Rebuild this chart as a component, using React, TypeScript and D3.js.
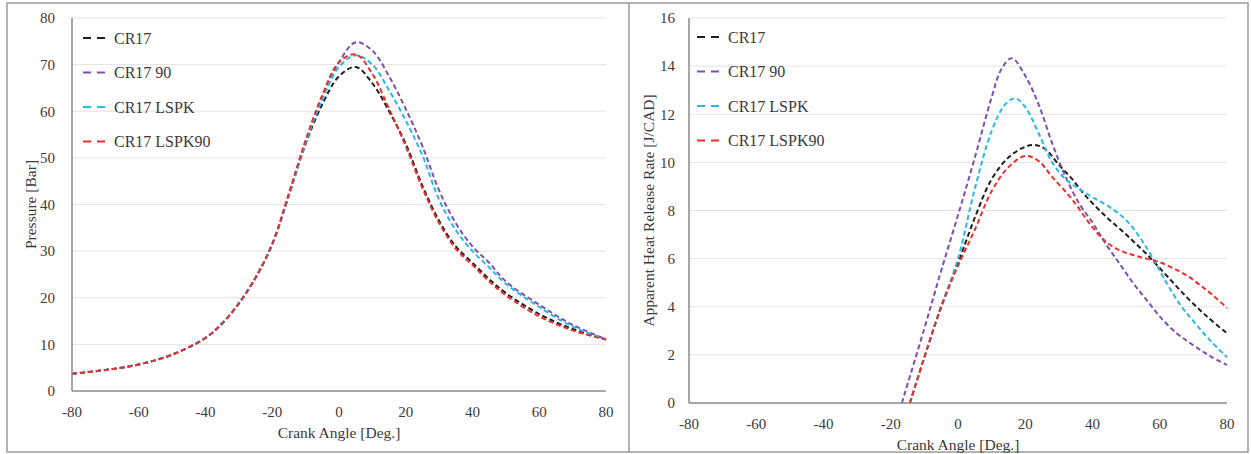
import React from "react";
import * as d3 from "d3";

// ---------- DATA ----------
const SERIES_NAMES = ["CR17", "CR17 90", "CR17 LSPK", "CR17 LSPK90"];
const SERIES_COLORS = ["#1e1e1e", "#7f4fae", "#27b9e6", "#e8302e"];

const X_TICKS = [-80, -60, -40, -20, 0, 20, 40, 60, 80];
const P_TICKS = [0, 10, 20, 30, 40, 50, 60, 70, 80];
const HRR_TICKS = [0, 2, 4, 6, 8, 10, 12, 14, 16];

// Pressure [Bar] vs crank angle
const P_ANGLES = [-80, -70, -60, -50, -40, -35, -30, -25, -20, -15, -10, -5, 0, 5, 10, 15, 20, 25, 30, 35, 40, 45, 50, 60, 70, 80];
const P_CR17 = [3.7, 4.5, 5.7, 7.8, 11.4, 14.5, 18.8, 24.3, 31.5, 42, 53, 61.5, 67.5, 69.5, 66, 60, 53, 44, 36.5, 31, 27.5, 24, 21, 16.5, 13.3, 11.1];
const P_CR17_90 = [3.7, 4.5, 5.7, 7.8, 11.4, 14.5, 18.8, 24.3, 31.5, 42, 53.5, 63, 70.5, 74.8, 73, 67.5, 60.5, 52.5, 43, 36, 31, 27.5, 23.5, 18.5, 14.2, 11.1];
const P_LSPK = [3.7, 4.5, 5.7, 7.8, 11.4, 14.5, 18.8, 24.3, 31.5, 42, 53.2, 62.5, 69.5, 72, 70, 64.5, 58, 50.5, 41, 34.5, 30, 26.5, 23, 18, 13.8, 11.1];
const P_LSPK90 = [3.7, 4.5, 5.7, 7.8, 11.4, 14.5, 18.8, 24.3, 31.5, 42.5, 53.8, 63.5, 70.5, 72.2, 68, 60.5, 52.5, 43.5, 36, 30.5, 27, 23.5, 20.5, 16, 13, 11];

// Apparent heat release rate [J/CAD] vs crank angle
const HRR_CR17_ANG = [-14.3, -10, -5, 0, 5, 10, 15, 20, 23, 26, 30, 34, 38, 44, 50, 56, 62, 68, 74, 80];
const HRR_CR17 = [0, 1.9, 4.0, 5.8, 7.7, 9.3, 10.2, 10.65, 10.72, 10.55, 9.9, 9.3, 8.6, 7.75, 7.0, 6.2, 5.3, 4.4, 3.6, 2.9];
const HRR_CR17_90_ANG = [-16.7, -10, -5, 0, 5, 10, 13, 16, 20, 24, 28, 32, 36, 40, 44, 48, 52, 56, 60, 65, 70, 75, 80];
const HRR_CR17_90 = [0, 3.1, 5.5, 7.8, 10.2, 12.7, 13.9, 14.33, 13.6, 12.4, 10.8, 9.4, 8.3, 7.5, 6.6, 5.8, 5.0, 4.3, 3.6, 2.9, 2.4, 1.95, 1.58];
const HRR_LSPK_ANG = [-14.3, -10, -5, 0, 5, 10, 14, 17, 20, 24, 28, 32, 36, 40, 45, 50, 54, 58, 62, 66, 70, 75, 80];
const HRR_LSPK = [0, 1.9, 4.0, 6.0, 8.9, 11.3, 12.4, 12.66, 12.3, 11.2, 10.0, 9.3, 8.9, 8.55, 8.15, 7.6, 6.9, 6.0, 5.0, 4.1, 3.4, 2.6, 1.9];
const HRR_LSPK90_ANG = [-14.3, -10, -5, 0, 5, 10, 15, 20, 24, 28, 34, 40, 44, 48, 52, 56, 60, 64, 68, 72, 76, 80];
const HRR_LSPK90 = [0, 1.9, 4.0, 5.7, 7.2, 8.8, 9.8, 10.27, 10.05, 9.4, 8.45, 7.3, 6.7, 6.35, 6.15, 6.0, 5.85, 5.6, 5.3, 4.9, 4.45, 3.95];

// ---------- helpers ----------
const zip = (xs: number[], ys: number[]) => xs.map((x, i) => [x, ys[i]] as [number, number]);

const PRESSURE_LINES = [
  zip(P_ANGLES, P_CR17),
  zip(P_ANGLES, P_CR17_90),
  zip(P_ANGLES, P_LSPK),
  zip(P_ANGLES, P_LSPK90),
];
const HRR_LINES = [
  zip(HRR_CR17_ANG, HRR_CR17),
  zip(HRR_CR17_90_ANG, HRR_CR17_90),
  zip(HRR_LSPK_ANG, HRR_LSPK),
  zip(HRR_LSPK90_ANG, HRR_LSPK90),
];

const FONT = "'Liberation Serif', 'DejaVu Serif', serif";
const TEXT = "#3a3a3a";

type PanelProps = {
  x0: number; x1: number; yTop: number; yBot: number;
  yMax: number; yTicks: number[]; lines: [number, number][][];
  yTitle: string; yTitleX: number; yLabelGap: number;
  legendX: number; legendY: number;
};

function Panel(p: PanelProps) {
  const x = d3.scaleLinear().domain([-80, 80]).range([p.x0, p.x1]);
  const y = d3.scaleLinear().domain([0, p.yMax]).range([p.yBot, p.yTop]);
  const line = d3.line<[number, number]>()
    .x((d) => x(d[0]))
    .y((d) => y(d[1]))
    .curve(d3.curveCatmullRom.alpha(0.5));
  const midX = (p.x0 + p.x1) / 2;
  const midY = (p.yTop + p.yBot) / 2;
  return (
    <g fontFamily={FONT}>
      {p.yTicks.filter((t) => t !== 0).map((t) => (
        <line key={"g" + t} x1={p.x0} x2={p.x1} y1={y(t)} y2={y(t)} stroke="#e3e3e3" strokeWidth={1} />
      ))}
      {p.lines.map((d, i) => (
        <path key={"l" + i} d={line(d) || ""} fill="none" stroke={SERIES_COLORS[i]}
          strokeWidth={2} strokeDasharray="5,3" />
      ))}
      <line x1={p.x0} x2={p.x0} y1={p.yTop} y2={p.yBot} stroke="#8a8a8a" strokeWidth={1.5} />
      <line x1={p.x0} x2={p.x1} y1={p.yBot} y2={p.yBot} stroke="#8a8a8a" strokeWidth={1.5} />
      {p.yTicks.map((t) => (
        <text key={"y" + t} x={p.x0 - p.yLabelGap} y={y(t)} dy="0.35em" textAnchor="end" fontSize={15} fill={TEXT}>{t}</text>
      ))}
      {X_TICKS.map((t) => (
        <text key={"x" + t} x={x(t)} y={p.yBot + 26} textAnchor="middle" fontSize={15} fill={TEXT}>{t}</text>
      ))}
      <text x={midX} y={p.yBot + 47} textAnchor="middle" fontSize={15.5} fill={TEXT}>Crank Angle [Deg.]</text>
      <text transform={`translate(${p.yTitleX},${midY}) rotate(-90)`} textAnchor="middle" dy="0.35em" fontSize={15.5} fill={TEXT}>{p.yTitle}</text>
      {SERIES_NAMES.map((n, i) => (
        <g key={"lg" + i} transform={`translate(${p.legendX},${p.legendY + i * 34.5})`}>
          <line x1={0} x2={22} y1={0} y2={0} stroke={SERIES_COLORS[i]} strokeWidth={2} strokeDasharray="8,6" />
          <text x={31} y={0} dy="0.35em" fontSize={16} fill={TEXT}>{n}</text>
        </g>
      ))}
    </g>
  );
}

export default function App() {
  return (
    <div style={{ position: "fixed", left: 0, top: 0 }}>
      <svg width={1251} height={454} style={{ display: "block", background: "#fff" }}>
        <rect x={7} y={3} width={1241} height={449} fill="#fff" stroke="#9a9a9a" strokeWidth={1.5} />
        <line x1={629} x2={629} y1={3} y2={452} stroke="#9a9a9a" strokeWidth={1.5} />
        <Panel x0={72} x1={606} yTop={18} yBot={391} yMax={80} yTicks={P_TICKS}
          lines={PRESSURE_LINES} yTitle="Pressure [Bar]" yTitleX={31} yLabelGap={17}
          legendX={83} legendY={38} />
        <Panel x0={689} x1={1227} yTop={18} yBot={403} yMax={16} yTicks={HRR_TICKS}
          lines={HRR_LINES} yTitle="Apparent Heat Release Rate [J/CAD]" yTitleX={649} yLabelGap={14}
          legendX={697} legendY={37} />
      </svg>
    </div>
  );
}
